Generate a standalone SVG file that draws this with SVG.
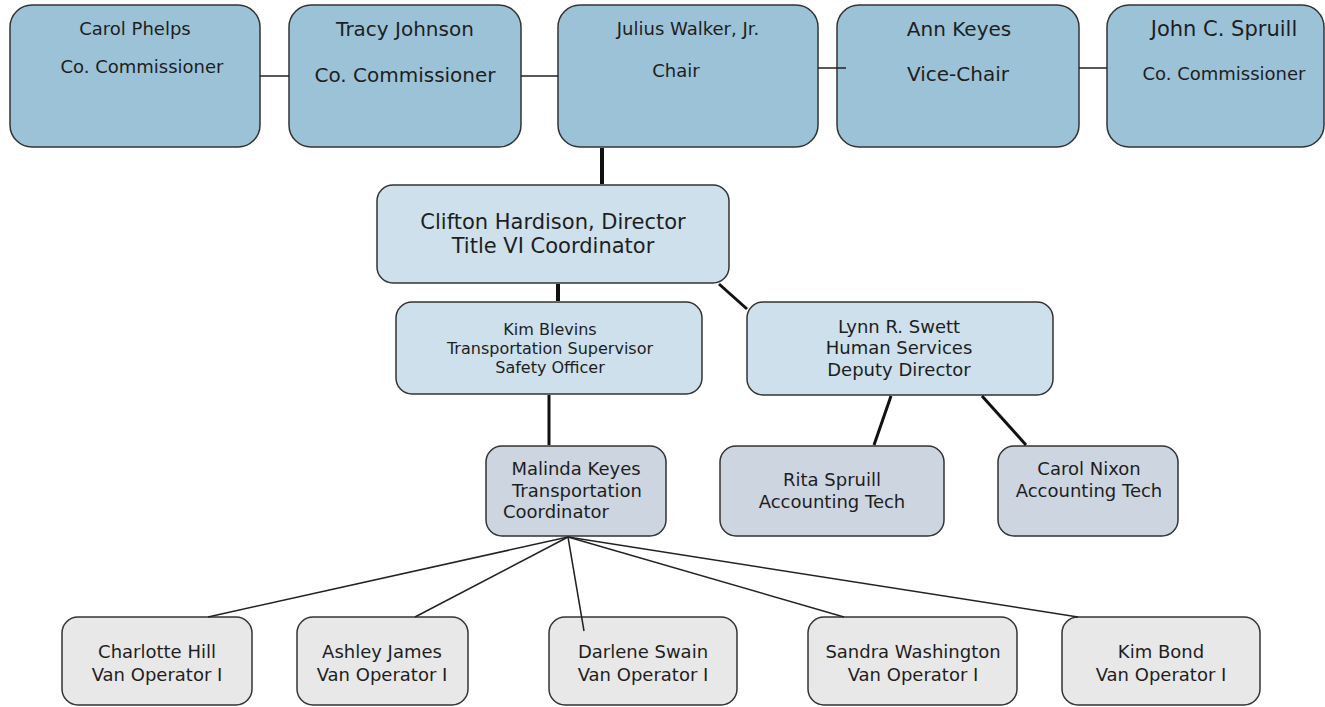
<svg xmlns="http://www.w3.org/2000/svg" width="1325" height="707" viewBox="0 0 1325 707">
<style>
.box{stroke:#333;stroke-width:1.5}
.t1{fill:#9cc2d7}
.t2{fill:#cde0eb}
.t3{fill:#cdd5e0}
.t4{fill:#e8e8e8}
text{font-family:"DejaVu Sans",Verdana,sans-serif;fill:#1e1e1e;text-anchor:middle}
.thin{stroke:#222;stroke-width:1.5;fill:none}
.thick{stroke:#111;stroke-width:4;fill:none}
.med{stroke:#111;stroke-width:3;fill:none}
</style>
<rect width="1325" height="707" fill="#fff"/>
<g id="carol-phelps">
<rect class="box t1" x="10" y="5" width="250" height="142" rx="22"/>
<text x="135" y="35" font-size="18">Carol Phelps</text>
<text x="142" y="73" font-size="18">Co. Commissioner</text>
</g>
<g id="tracy-johnson">
<rect class="box t1" x="289" y="5" width="232" height="142" rx="22"/>
<text x="405" y="36" font-size="20">Tracy Johnson</text>
<text x="405" y="82" font-size="20">Co. Commissioner</text>
</g>
<g id="julius-walker">
<rect class="box t1" x="558" y="5" width="260" height="142" rx="22"/>
<text x="688" y="35" font-size="18">Julius Walker, Jr.</text>
<text x="676" y="77" font-size="18">Chair</text>
</g>
<g id="ann-keyes">
<rect class="box t1" x="837" y="5" width="242" height="142" rx="22"/>
<text x="959" y="36" font-size="20">Ann Keyes</text>
<text x="958" y="81" font-size="20">Vice-Chair</text>
</g>
<g id="john-spruill">
<rect class="box t1" x="1107" y="5" width="217" height="142" rx="22"/>
<text x="1224" y="36" font-size="21">John C. Spruill</text>
<text x="1224" y="80" font-size="18">Co. Commissioner</text>
</g>
<g id="clifton-hardison">
<rect class="box t2" x="377" y="185" width="352" height="98" rx="16"/>
<text x="553" y="229" font-size="21">Clifton Hardison, Director</text>
<text x="553" y="253" font-size="21">Title VI Coordinator</text>
</g>
<g id="kim-blevins">
<rect class="box t2" x="396" y="302" width="306" height="92" rx="16"/>
<text x="550" y="335" font-size="16">Kim Blevins</text>
<text x="550" y="354" font-size="16">Transportation Supervisor</text>
<text x="550" y="373" font-size="16">Safety Officer</text>
</g>
<g id="lynn-swett">
<rect class="box t2" x="747" y="302" width="306" height="93" rx="16"/>
<text x="899" y="333" font-size="18">Lynn R. Swett</text>
<text x="899" y="354" font-size="18">Human Services</text>
<text x="899" y="376" font-size="18">Deputy Director</text>
</g>
<g id="malinda-keyes">
<rect class="box t3" x="486" y="446" width="180" height="90" rx="16"/>
<text x="576" y="475" font-size="18">Malinda Keyes</text>
<text x="577" y="497" font-size="18">Transportation</text>
<text x="556" y="518" font-size="18">Coordinator</text>
</g>
<g id="rita-spruill">
<rect class="box t3" x="720" y="446" width="224" height="90" rx="16"/>
<text x="832" y="486" font-size="18">Rita Spruill</text>
<text x="832" y="508" font-size="18">Accounting Tech</text>
</g>
<g id="carol-nixon">
<rect class="box t3" x="998" y="446" width="180" height="90" rx="16"/>
<text x="1089" y="475" font-size="18">Carol Nixon</text>
<text x="1089" y="497" font-size="18">Accounting Tech</text>
</g>
<g id="charlotte-hill">
<rect class="box t4" x="62" y="617" width="190" height="88" rx="16"/>
<text x="157" y="658" font-size="18">Charlotte Hill</text>
<text x="157" y="681" font-size="18">Van Operator I</text>
</g>
<g id="ashley-james">
<rect class="box t4" x="297" y="617" width="171" height="88" rx="16"/>
<text x="382" y="658" font-size="18">Ashley James</text>
<text x="382" y="681" font-size="18">Van Operator I</text>
</g>
<g id="darlene-swain">
<rect class="box t4" x="549" y="617" width="188" height="88" rx="16"/>
<text x="643" y="658" font-size="18">Darlene Swain</text>
<text x="643" y="681" font-size="18">Van Operator I</text>
</g>
<g id="sandra-washington">
<rect class="box t4" x="808" y="617" width="209" height="88" rx="16"/>
<text x="913" y="658" font-size="18">Sandra Washington</text>
<text x="913" y="681" font-size="18">Van Operator I</text>
</g>
<g id="kim-bond">
<rect class="box t4" x="1062" y="617" width="198" height="88" rx="16"/>
<text x="1161" y="658" font-size="18">Kim Bond</text>
<text x="1161" y="681" font-size="18">Van Operator I</text>
</g>
<g id="connectors">
<line class="thin" x1="260" y1="76" x2="289" y2="76"/>
<line class="thin" x1="521" y1="76" x2="558" y2="76"/>
<line class="thin" x1="818" y1="68" x2="846" y2="68"/>
<line class="thin" x1="1079" y1="68" x2="1107" y2="68"/>
<line class="thick" x1="602" y1="148" x2="602" y2="184"/>
<line class="thick" x1="558" y1="284" x2="558" y2="301"/>
<line class="med" x1="719" y1="284" x2="747" y2="309"/>
<line class="med" x1="549" y1="395" x2="549" y2="445"/>
<line class="med" x1="891" y1="396" x2="874" y2="445"/>
<line class="med" x1="982" y1="396" x2="1026" y2="445"/>
<g class="thin">
<line x1="568" y1="537" x2="208" y2="617"/>
<line x1="568" y1="537" x2="415" y2="617"/>
<line x1="568" y1="537" x2="584" y2="631"/>
<line x1="568" y1="537" x2="844" y2="617"/>
<line x1="568" y1="537" x2="1078" y2="617"/>
</g>
</g>
</svg>
